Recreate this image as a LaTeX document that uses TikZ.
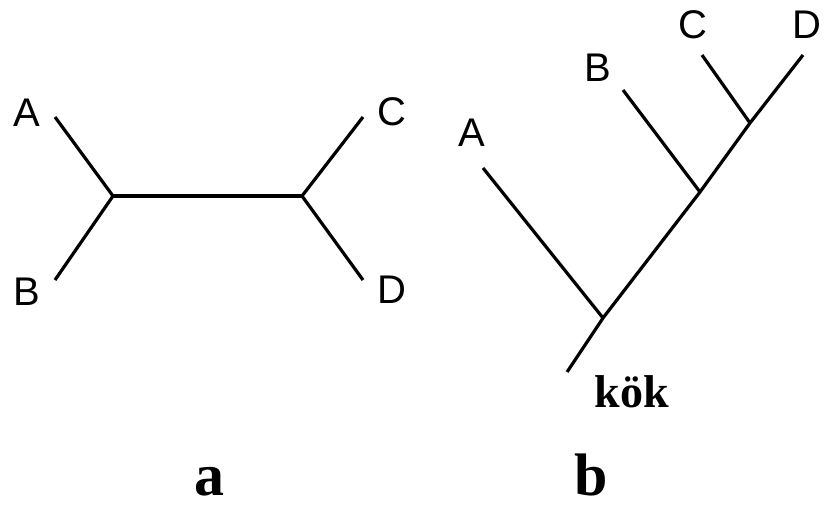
\documentclass[tikz,border=0pt]{standalone}
\usepackage{fontspec}
\setmainfont{Liberation Serif}
\newfontfamily\lettersf{Liberation Sans}
\begin{document}
\begin{tikzpicture}[x=1pt,y=-1pt,
  branch/.style={line width=3.2pt, black},
  leaf/.style={inner sep=0pt, font=\lettersf\fontsize{40}{40}\selectfont},
  caption/.style={inner sep=0pt, anchor=base, font=\bfseries\fontsize{60}{60}\selectfont},
  rootlabel/.style={inner sep=0pt, anchor=base, font=\bfseries\fontsize{46}{46}\selectfont}]
\useasboundingbox (0,0) rectangle (824,508);
% ---- tree a ----
\coordinate (aL) at (113,196);
\coordinate (aR) at (302,196);
\coordinate (aA) at (55,117);
\coordinate (aB) at (55,280);
\coordinate (aC) at (363,117);
\coordinate (aD) at (363,280);
\draw[branch] (aA) -- (aL) -- (aB);
\draw[branch] (aL) -- (aR);
\draw[branch] (aC) -- (aR) -- (aD);
\node[leaf] (laA) at (27,113) {A};
\node[leaf] (laB) at (27,292) {B};
\node[leaf] (laC) at (392,112) {C};
\node[leaf] (laD) at (392,290) {D};
\node[caption] (capa) at (209,495) {a};
% ---- tree b ----
\coordinate (bRoot) at (567,372);
\coordinate (bJ1) at (603,318);
\coordinate (bJ2) at (700,192);
\coordinate (bJ3) at (750,123);
\coordinate (bA) at (483,168);
\coordinate (bB) at (623,90);
\coordinate (bC) at (702,55);
\coordinate (bD) at (803,55);
\draw[branch] (bRoot) -- (bJ1) -- (bJ2) -- (bJ3) -- (bD);
\draw[branch] (bA) -- (bJ1);
\draw[branch] (bB) -- (bJ2);
\draw[branch] (bC) -- (bJ3);
\node[leaf] (lbA) at (472,133) {A};
\node[leaf] (lbB) at (598,68) {B};
\node[leaf] (lbC) at (693,25) {C};
\node[leaf] (lbD) at (807,25) {D};
\node[rootlabel] (kok) at (632,407) {kök};
\node[caption] (capb) at (591,495) {b};
\end{tikzpicture}
\end{document}
